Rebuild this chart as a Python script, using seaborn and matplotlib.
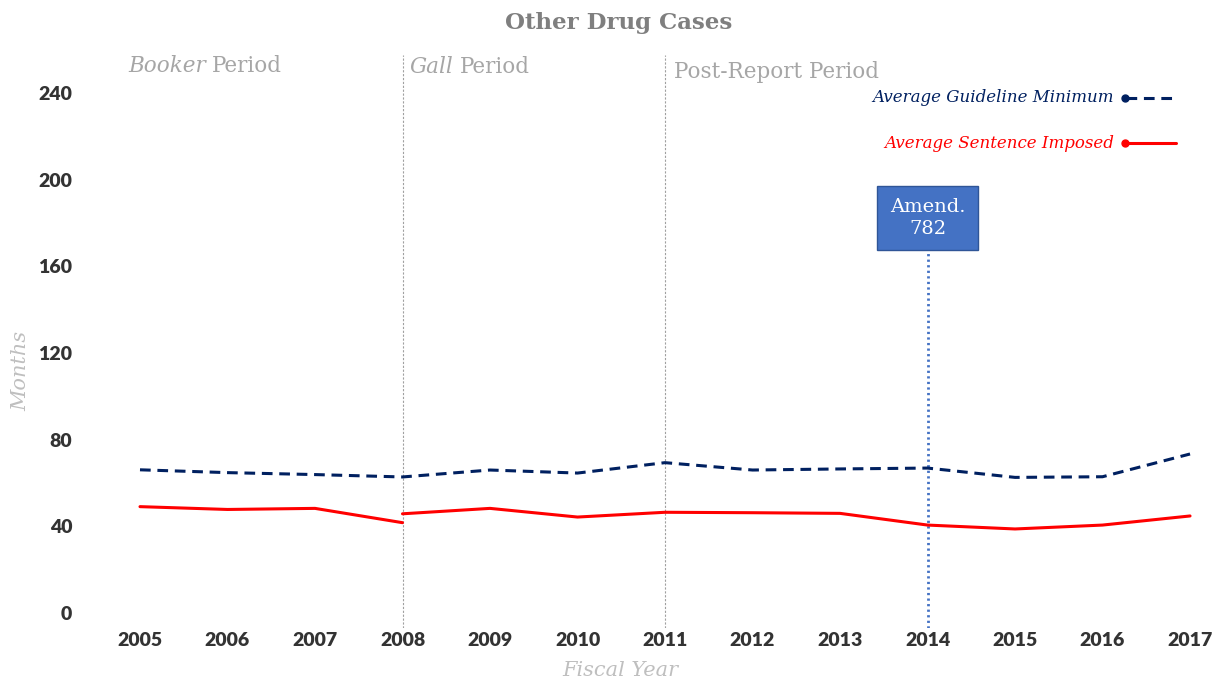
import pandas as pd
import matplotlib.pyplot as plt
import seaborn as sns
from matplotlib.lines import Line2D

# Données (mois)
years = list(range(2005, 2018))
guideline_min = [66.1, 64.8, 63.9, 62.8, 66.0, 64.6, 69.4, 66.0, 66.5, 66.9, 62.6, 62.9, 73.4]
# la série "sentence" est coupée en 2008 (Booker / Gall)
sentence_years_a = [2005, 2006, 2007, 2008]
sentence_a = [49.1, 47.8, 48.3, 41.7]
sentence_years_b = list(range(2008, 2018))
sentence_b = [45.8, 48.3, 44.3, 46.5, 46.3, 46.0, 40.6, 38.8, 40.6, 44.8]

period_years = [2008, 2011]
amend_year = 2014
y_ticks = [0, 40, 80, 120, 160, 200, 240]

NAVY = "#002060"
RED = "#ff0000"
GREY_TXT = "#a6a6a6"
BLUE = "#4472c4"

sns.set_theme(style="white")
plt.rcParams['font.family'] = ['DejaVu Sans']

fig = plt.figure(figsize=(12.16, 6.84), dpi=100)
ax = fig.add_axes([100 / 1216, 1 - 628 / 684, 1105 / 1216, 576 / 684])

df_guide = pd.DataFrame({"year": years, "months": guideline_min})
df_a = pd.DataFrame({"year": sentence_years_a, "months": sentence_a})
df_b = pd.DataFrame({"year": sentence_years_b, "months": sentence_b})

sns.lineplot(data=df_guide, x="year", y="months", ax=ax, color=NAVY,
             linewidth=2.2, linestyle=(0, (3.5, 2.2)), zorder=3)
sns.lineplot(data=df_a, x="year", y="months", ax=ax, color=RED, linewidth=2.2, zorder=3)
sns.lineplot(data=df_b, x="year", y="months", ax=ax, color=RED, linewidth=2.2, zorder=3)

ax.set_xlim(2004.543, 2017.171)
ax.set_ylim(-6.9, 258.9)
ax.set_xticks(years)
ax.set_yticks(y_ticks)
ax.tick_params(axis='both', length=0, labelsize=14, colors="#333333")
for lab in ax.get_xticklabels() + ax.get_yticklabels():
    lab.set_fontweight("heavy")
    lab.set_fontfamily("Lato")
ax.tick_params(axis='y', pad=20)
ax.tick_params(axis='x', pad=3)
for s in ax.spines.values():
    s.set_visible(False)
ax.grid(False)

ax.set_xlabel("")
ax.set_ylabel("")
fig.text(620 / 1216, 1 - 670 / 684, "Fiscal Year", ha="center", va="center", fontsize=15,
         style="italic", color="#bfbfbf", fontfamily="DejaVu Serif")
fig.text(21 / 1216, 1 - 371 / 684, "Months", ha="center", va="center", fontsize=15,
         style="italic", color="#bfbfbf", fontfamily="DejaVu Serif", rotation=90)
fig.text(619 / 1216, 1 - 23 / 684, "Other Drug Cases", ha="center", va="center",
         fontsize=16.5, fontweight="bold", color="#7f7f7f", fontfamily="DejaVu Serif")

# séparateurs de périodes
for yr in period_years:
    ax.axvline(yr, ymin=0, ymax=0.995, color="#a0a0a0", linewidth=0.8,
               linestyle=(0, (2, 1.5)), zorder=1)

# étiquettes de périodes
lbl_kw = dict(fontsize=15.5, color=GREY_TXT, fontfamily="DejaVu Serif", va="center")
ax.text(128 / 1216, 1 - 66 / 684, "Booker", style="italic",
        transform=fig.transFigure, **lbl_kw)
ax.text(212 / 1216, 1 - 66 / 684, "Period", transform=fig.transFigure, **lbl_kw)
ax.text(410 / 1216, 1 - 67 / 684, "Gall", style="italic",
        transform=fig.transFigure, **lbl_kw)
ax.text(460 / 1216, 1 - 67 / 684, "Period", transform=fig.transFigure, **lbl_kw)
ax.text(674 / 1216, 1 - 72 / 684, "Post-Report Period", transform=fig.transFigure, **lbl_kw)

# Amendement 782
ax.axvline(amend_year, ymin=0, ymax=(166 + 6.9) / 265.8, color=BLUE, linewidth=2,
           linestyle=(0, (0.8, 1.2)), zorder=2)
ax.text(amend_year, 182.3, "Amend.\n782", ha="center", va="center", fontsize=14,
        color="white", fontfamily="DejaVu Serif", linespacing=1.25,
        bbox=dict(boxstyle="square,pad=0.65", facecolor=BLUE, edgecolor="#2f5597",
                  linewidth=1), zorder=4)

# légende personnalisée
leg_items = [("Average Guideline Minimum", NAVY, (0, (3.5, 2.2)), 98),
             ("Average Sentence Imposed", RED, "-", 143)]
for label, col, ls, ypix in leg_items:
    yf = 1 - ypix / 684
    fig.add_artist(Line2D([1126 / 1216, 1176 / 1216], [yf, yf], color=col,
                          linewidth=2.2, linestyle=ls, transform=fig.transFigure))
    fig.add_artist(Line2D([1125 / 1216], [yf], color=col, marker="o", markersize=5,
                          transform=fig.transFigure))
    fig.text(1114 / 1216, yf, label, ha="right", va="center", fontsize=12,
             style="italic", color=col, fontfamily="DejaVu Serif")

fig.savefig("out.png", dpi=100)
